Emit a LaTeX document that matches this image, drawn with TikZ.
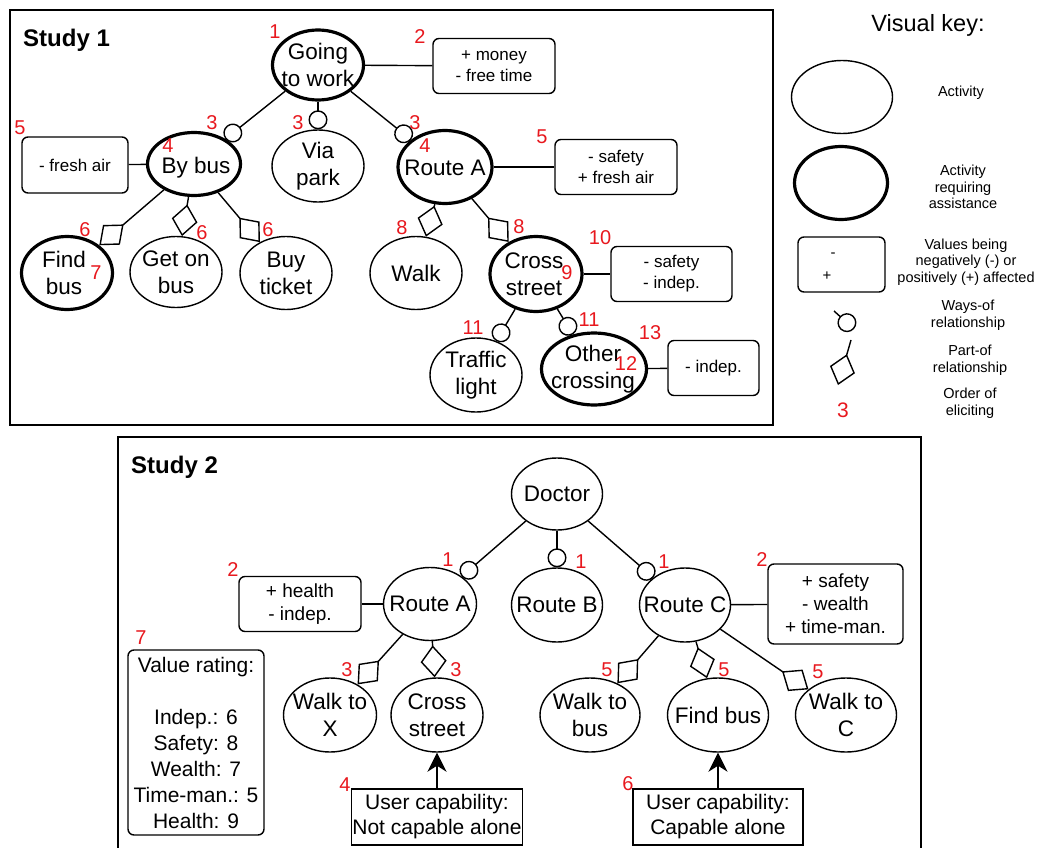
\documentclass[tikz,border=0pt]{standalone}
\usepackage{fontspec}
\setmainfont{Liberation Sans}
\usetikzlibrary{shapes.geometric,arrows.meta}
\definecolor{ordred}{RGB}{232,24,30}
\tikzset{
 act/.style={ellipse,draw,line width=1.4pt,inner sep=0pt},
 actA/.style={ellipse,draw,line width=3.2pt,inner sep=0pt},
 atxt/.style={align=center,inner sep=0pt,font=\fontsize{22.5}{27}\selectfont},
 valbox/.style={draw,rounded corners=6pt,line width=1.4pt,align=center,inner sep=0pt,font=\fontsize{17}{21}\selectfont},
 valboxb/.style={draw,rounded corners=6pt,line width=1.4pt,align=center,inner sep=0pt,font=\fontsize{19}{23}\selectfont},
 vrate/.style={draw,rounded corners=6pt,line width=1.4pt,align=center,inner sep=0pt,font=\fontsize{21}{26}\selectfont},
 ord/.style={text=ordred,inner sep=0pt,font=\fontsize{20}{24}\selectfont},
 waysof/.style={line width=1.4pt,-{Circle[open,length=19pt]}},
 partof/.style={line width=1.4pt,-{Diamond[open,length=32pt,width=26pt]}},
 plain/.style={line width=1.4pt},
 frame/.style={line width=1.6pt},
 keytxt/.style={align=center,inner sep=0pt,font=\fontsize{14.5}{16.7}\selectfont},
 capbox/.style={draw,line width=1.4pt,align=center,inner sep=0pt,font=\fontsize{21}{25}\selectfont},
 capar/.style={line width=1.6pt,-{Stealth[length=19pt,width=19pt,inset=6pt]}},
 title/.style={anchor=west,inner sep=0pt,font=\fontsize{24}{28}\selectfont\bfseries},
}
\begin{document}
\begin{tikzpicture}[x=1pt,y=-1pt]
\useasboundingbox (0,0) rectangle (1038,848);
\fill[white] (0,0) rectangle (1038,848);

% ---------- frames ----------
\draw[frame] (10,10) rectangle (773,425);
\draw[frame] (118,848) -- (118,437) -- (921,437) -- (921,848);
\node[title] (t1) at (23,40) {Study 1};
\node[title] (t2) at (131,467) {Study 2};

% ---------- Study 1 ----------
\node[actA, minimum width=91pt, minimum height=70pt] (go) at (318,65) {};
\node[atxt] (go-t) at (go) {Going\\to work};
\node[actA, minimum width=93pt, minimum height=63pt] (bus) at (194,164) {};
\node[atxt] (bus-t) at (196,168) {By bus};
\node[act, minimum width=92pt, minimum height=72pt] (park) at (318,166) {};
\node[atxt] (park-t) at (park) {Via\\park};
\node[actA, minimum width=94pt, minimum height=73pt] (ra) at (445,167) {};
\node[atxt] (ra-t) at (445,168) {Route A};
\node[actA, minimum width=91pt, minimum height=73pt] (fb) at (67,273) {};
\node[atxt] (fb-t) at (64,273) {Find\\bus};
\node[act, minimum width=92pt, minimum height=71pt] (gob) at (176,272) {};
\node[atxt] (gob-t) at (gob) {Get on\\bus};
\node[act, minimum width=92pt, minimum height=73pt] (buy) at (286,273) {};
\node[atxt] (buy-t) at (buy) {Buy\\ticket};
\node[act, minimum width=92pt, minimum height=73pt] (walk) at (416,273) {};
\node[atxt] (walk-t) at (walk) {Walk};
\node[actA, minimum width=92pt, minimum height=75pt] (cs) at (536,274) {};
\node[atxt] (cs-t) at (534,274) {Cross\\street};
\node[act, minimum width=92pt, minimum height=74pt] (tl) at (476,375) {};
\node[atxt] (tl-t) at (tl) {Traffic\\light};
\node[actA, minimum width=105pt, minimum height=72pt] (oc) at (594,369) {};
\node[atxt] (oc-t) at (593,369) {Other\\crossing};

\node[valbox, minimum width=122pt, minimum height=55pt] (v2) at (494,66) {+ money\\- free time};
\node[valbox, minimum width=106pt, minimum height=56pt] (v5a) at (75,165) {- fresh air};
\node[valbox, minimum width=122pt, minimum height=55pt] (v5b) at (616,167) {- safety\\+ fresh air};
\node[valbox, minimum width=121pt, minimum height=55pt] (v10) at (671.5,274) {- safety\\- indep.};
\node[valbox, minimum width=91pt, minimum height=55pt] (v13) at (713.5,368) {- indep.};

\draw[plain] (go) -- (v2);
\draw[plain] (bus) -- (v5a);
\draw[plain] (ra) -- (v5b);
\draw[plain] (cs) -- (v10);
\draw[plain] (oc) -- (v13);

\draw[waysof] (go) -- (bus);
\draw[waysof] (go) -- (park);
\draw[waysof] (go) -- (ra);
\draw[partof] (bus) -- (fb);
\draw[partof] (bus) -- (gob);
\draw[partof] (bus) -- (buy);
\draw[partof] (ra) -- (walk);
\draw[partof] (ra) -- (cs);
\draw[waysof] (cs) -- (tl);
\draw[waysof] (cs) -- (oc);

\node[ord] (o1) at (275,32) {1};
\node[ord] (o2) at (420,37) {2};
\node[ord] (o3a) at (212,123) {3};
\node[ord] (o3b) at (298,123) {3};
\node[ord] (o3c) at (415,123) {3};
\node[ord] (o4a) at (168,146) {4};
\node[ord] (o4b) at (425,146) {4};
\node[ord] (o5a) at (20,128) {5};
\node[ord] (o5b) at (542,137) {5};
\node[ord] (o6a) at (85,230) {6};
\node[ord] (o7) at (96,273) {7};
\node[ord] (o6b) at (202,233) {6};
\node[ord] (o6c) at (268,230) {6};
\node[ord] (o8a) at (402,228) {8};
\node[ord] (o8b) at (519,227) {8};
\node[ord] (o9) at (567,273) {9};
\node[ord] (o10) at (600,238) {10};
\node[ord] (o11a) at (473,328) {11};
\node[ord] (o11b) at (589,320) {11};
\node[ord] (o12) at (626,364) {12};
\node[ord] (o13) at (650,333) {13};

% ---------- Visual key ----------
\node[inner sep=0pt, font=\fontsize{23.5}{28}\selectfont] (kt) at (928,25) {Visual key:};
\node[act, minimum width=101pt, minimum height=73pt] (kact) at (842,97) {};
\node[actA, minimum width=93pt, minimum height=73pt] (kactA) at (841,183) {};
\node[valbox, minimum width=87pt, minimum height=55pt] (kval) at (841.5,264.5) {};
\node[inner sep=0pt, font=\fontsize{15}{18}\selectfont] (kminus) at (833,255) {-};
\node[inner sep=0pt, font=\fontsize{15}{18}\selectfont] (kplus) at (827,276) {+};
\coordinate (kw1) at (834,311);
\coordinate (kw2) at (854,329);
\draw[waysof] (kw1) -- (kw2);
\coordinate (kp1) at (851,340);
\coordinate (kp2) at (838,385);
\draw[partof] (kp1) -- (kp2);
\node[text=ordred, inner sep=0pt, font=\fontsize{21}{24}\selectfont] (k3) at (843,410) {3};

\node[keytxt] (kt1) at (961,93) {Activity};
\node[keytxt] (kt2) at (963,187) {Activity\\requiring\\assistance};
\node[keytxt] (kt3) at (966,262) {Values being\\negatively (-) or\\positively (+) affected};
\node[keytxt] (kt4) at (968,315) {Ways-of\\relationship};
\node[keytxt] (kt5) at (970,360) {Part-of\\relationship};
\node[keytxt] (kt6) at (970,403) {Order of\\eliciting};

% ---------- Study 2 ----------
\node[act, minimum width=91pt, minimum height=72pt] (doc) at (557,494) {};
\node[atxt] (doc-t) at (doc) {Doctor};
\node[act, minimum width=93pt, minimum height=73pt] (sa) at (430,604) {};
\node[atxt] (sa-t) at (sa) {Route A};
\node[act, minimum width=91pt, minimum height=74pt] (sb) at (557,605) {};
\node[atxt] (sb-t) at (sb) {Route B};
\node[act, minimum width=91pt, minimum height=74pt] (sc) at (685,605) {};
\node[atxt] (sc-t) at (sc) {Route C};
\node[act, minimum width=93pt, minimum height=74pt] (wx) at (330,715) {};
\node[atxt] (wx-t) at (wx) {Walk to\\X};
\node[act, minimum width=92pt, minimum height=74pt] (cs2) at (437,715) {};
\node[atxt] (cs2-t) at (cs2) {Cross\\street};
\node[act, minimum width=100pt, minimum height=74pt] (wb) at (590,715) {};
\node[atxt] (wb-t) at (wb) {Walk to\\bus};
\node[act, minimum width=101pt, minimum height=74pt] (fb2) at (718,715) {};
\node[atxt] (fb2-t) at (fb2) {Find bus};
\node[act, minimum width=101pt, minimum height=74pt] (wc) at (846,715) {};
\node[atxt] (wc-t) at (wc) {Walk to\\C};

\node[valboxb, minimum width=122pt, minimum height=55pt] (hb) at (300,604) {+ health\\- indep.};
\node[valboxb, minimum width=135pt, minimum height=80pt] (sfb) at (835.5,604) {+ safety\\- wealth\\+ time-man.};
\node[vrate, minimum width=136pt, minimum height=185pt] (vr) at (196,742.5) {Value rating:\\[26pt]Indep.: 6\\Safety: 8\\Wealth: 7\\Time-man.: 5\\Health: 9};
\node[capbox, minimum width=171pt, minimum height=56pt] (cap1) at (437,817) {User capability:\\Not capable alone};
\node[capbox, minimum width=170pt, minimum height=56pt] (cap2) at (718,817) {User capability:\\Capable alone};

\draw[plain] (sa) -- (hb);
\draw[plain] (sc) -- (sfb);
\draw[waysof] (doc) -- (sa);
\draw[waysof] (doc) -- (sb);
\draw[waysof] (doc) -- (sc);
\draw[partof] (sa) -- (wx);
\draw[partof] (sa) -- (cs2);
\draw[partof] (sc) -- (wb);
\draw[partof] (sc) -- (fb2);
\draw[partof] (sc) -- (wc);
\draw[capar] (cap1) -- (cs2);
\draw[capar] (cap2) -- (fb2);

\node[ord] (p1a) at (448,560) {1};
\node[ord] (p1b) at (581,562) {1};
\node[ord] (p1c) at (664,562) {1};
\node[ord] (p2a) at (233,570) {2};
\node[ord] (p2b) at (762,560) {2};
\node[ord] (p7) at (141,638) {7};
\node[ord] (p3a) at (347,670) {3};
\node[ord] (p3b) at (456,670) {3};
\node[ord] (p4) at (345,785) {4};
\node[ord] (p5a) at (607,670) {5};
\node[ord] (p5b) at (724,670) {5};
\node[ord] (p5c) at (818,672) {5};
\node[ord] (p6) at (628,784) {6};
\end{tikzpicture}
\end{document}
